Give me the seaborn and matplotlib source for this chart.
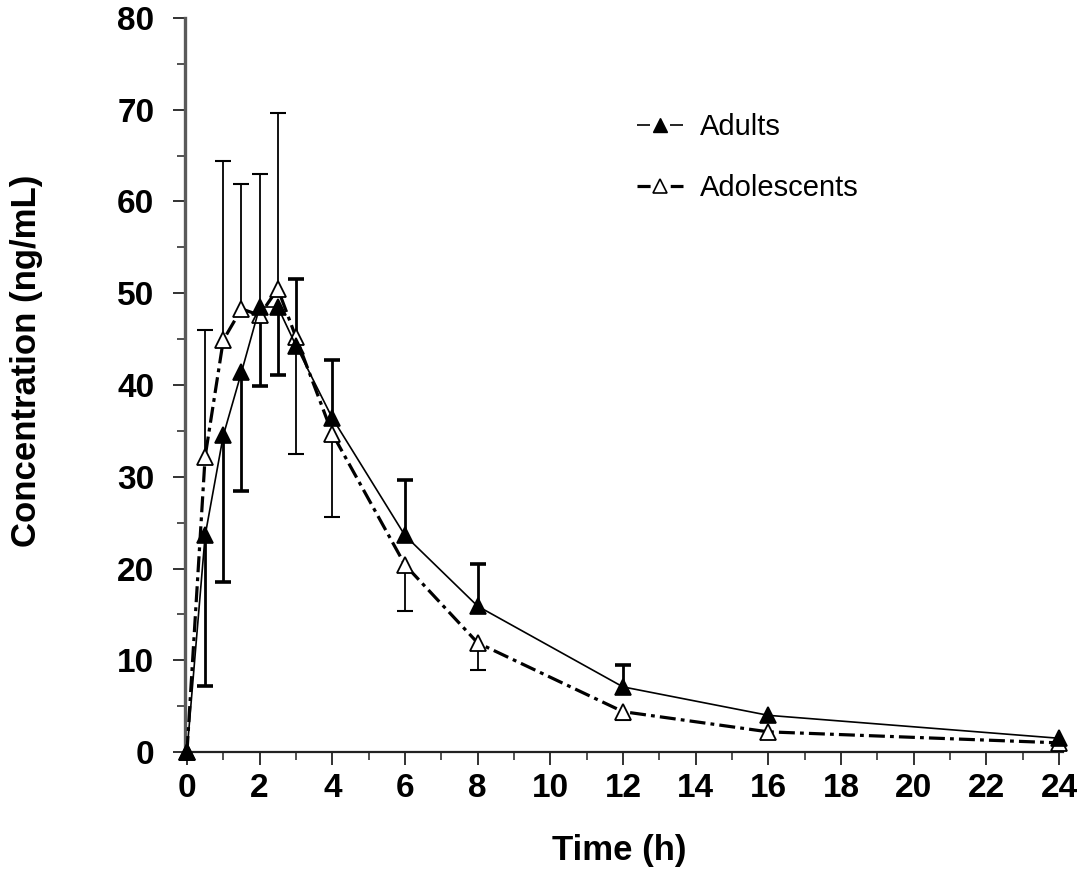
import numpy as np
import pandas as pd
import matplotlib
matplotlib.use('Agg')
import matplotlib.pyplot as plt
from matplotlib.lines import Line2D
from matplotlib.ticker import MultipleLocator
import seaborn as sns

# Time points (h)
time = [0, 0.5, 1, 1.5, 2, 2.5, 3, 4, 6, 8, 12, 16, 24]

# Mean concentrations (ng/mL)
adults = [0, 23.6, 34.5, 41.4, 48.5, 48.5, 44.3, 36.4, 23.6, 15.9, 7.1, 4.0, 1.5]
adolescents = [0, 32.2, 44.9, 48.3, 47.6, 50.5, 45.2, 34.7, 20.4, 11.9, 4.4, 2.2, 1.0]

# Error bar ends (only one side drawn per point, None = not drawn)
adults_upper = [None, None, None, None, None, None, 51.6, 42.7, 29.7, 20.5, 9.5, None, None]
adults_lower = [None, 7.2, 18.5, 28.5, 39.9, 41.1, None, None, None, None, None, None, None]
adol_upper = [None, 46.0, 64.4, 61.9, 63.0, 69.6, None, None, None, None, None, None, None]
adol_lower = [None, None, None, None, None, None, 32.5, 25.6, 15.4, 8.9, 3.5, None, None]

sns.set_style('ticks')
plt.rcParams['font.family'] = ['Liberation Sans', 'DejaVu Sans']
plt.rcParams['text.color'] = 'black'
plt.rcParams['axes.labelcolor'] = 'black'
plt.rcParams['xtick.labelcolor'] = 'black'
plt.rcParams['ytick.labelcolor'] = 'black'

df = pd.DataFrame({
    'time': time * 2,
    'conc': adults + adolescents,
    'group': ['Adults'] * len(time) + ['Adolescents'] * len(time),
})

fig = plt.figure(figsize=(10.83, 8.69), dpi=100)
ax = fig.add_axes([0.1708, 0.1346, 0.8107, 0.8447])


def one_sided_errorbar(ax, mean, ends, upward, lw, cap_lw):
    # draw only one half of the error bar (upper or lower) with its cap
    xs = [t for t, e in zip(time, ends) if e is not None]
    ys = [m for m, e in zip(mean, ends) if e is not None]
    err = [abs(e - m) for m, e in zip(mean, ends) if e is not None]
    zeros = [0] * len(err)
    yerr = [zeros, err] if upward else [err, zeros]
    _, caps, _ = ax.errorbar(xs, ys, yerr=yerr, fmt='none', ecolor='black',
                             elinewidth=lw, capsize=5.5, capthick=cap_lw, zorder=2)
    # remove the cap sitting on the mean
    caps[0 if upward else 1].remove()


one_sided_errorbar(ax, adults, adults_upper, True, 2.0, 2.6)
one_sided_errorbar(ax, adults, adults_lower, False, 2.0, 2.6)
one_sided_errorbar(ax, adolescents, adol_upper, True, 1.3, 1.5)
one_sided_errorbar(ax, adolescents, adol_lower, False, 1.3, 1.5)

sns.lineplot(data=df[df['group'] == 'Adolescents'], x='time', y='conc', ax=ax,
             color='black', linewidth=2.3, linestyle=(0, (5, 1.6, 1.2, 1.6)), marker='^', markersize=11,
             markerfacecolor='white', markeredgecolor='black', markeredgewidth=1.3, zorder=3,
             clip_on=False)
sns.lineplot(data=df[df['group'] == 'Adults'], x='time', y='conc', ax=ax,
             color='black', linewidth=1.2, linestyle='-', marker='^', markersize=11,
             markerfacecolor='black', markeredgecolor='black', markeredgewidth=1.2, zorder=4,
             clip_on=False)

ax.set_xlim(-0.055, 24.11)
ax.set_ylim(0, 80)
ax.xaxis.set_major_locator(MultipleLocator(2))
ax.xaxis.set_minor_locator(MultipleLocator(1))
ax.yaxis.set_major_locator(MultipleLocator(10))
ax.yaxis.set_minor_locator(MultipleLocator(5))
ax.tick_params(axis='both', which='major', length=9, width=1.3, labelsize=24, color='#222')
ax.tick_params(axis='both', which='minor', length=6, width=1.1, color='#222')
ax.tick_params(axis='x', pad=6)
ax.tick_params(axis='y', pad=13)
for lab in ax.get_xticklabels() + ax.get_yticklabels():
    lab.set_fontweight('bold')

sns.despine(ax=ax)
ax.spines['left'].set_color('#5a5a5a')
ax.spines['left'].set_linewidth(2.4)
ax.spines['bottom'].set_color('#222')
ax.spines['bottom'].set_linewidth(1.6)

ax.set_xlabel('Time (h)', fontsize=25, fontweight='bold')
ax.set_ylabel('Concentration (ng/mL)', fontsize=25, fontweight='bold')
ax.xaxis.set_label_coords(0.495, -0.111)
ax.yaxis.set_label_coords(-0.162, 0.533)

handles = [
    Line2D([], [], color='black', linewidth=1.2, linestyle=(0, (7.8, 12, 7.8, 30)), marker='^',
           markersize=10.5, markerfacecolor='black', markeredgecolor='black'),
    Line2D([], [], color='black', linewidth=2.3, linestyle=(0, (4.1, 6.3, 4.1, 20)), marker='^',
           markersize=10.5, markerfacecolor='white', markeredgecolor='black', markeredgewidth=1.2),
]
ax.legend(handles, ['Adults', 'Adolescents'], loc='upper left', bbox_to_anchor=(0.5148, 0.8706),
          frameon=False, fontsize=21, handlelength=1.58, labelspacing=1.13, handletextpad=0.58,
          borderpad=0, borderaxespad=0)

fig.savefig('out.png', dpi=100)
